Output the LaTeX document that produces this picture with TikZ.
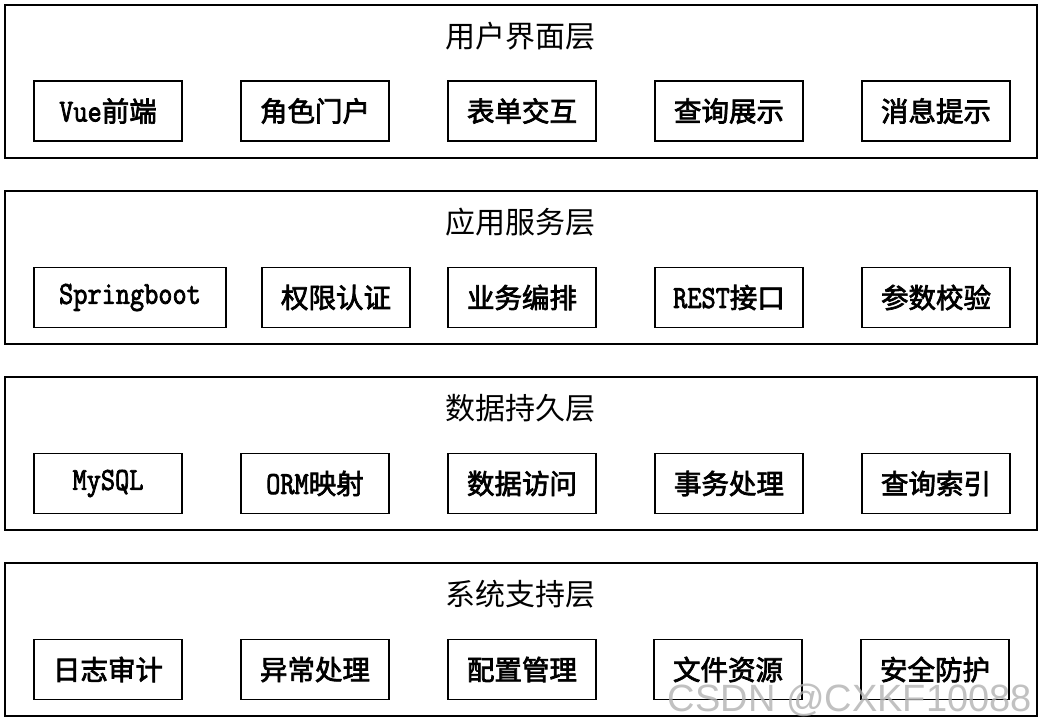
\documentclass[tikz,border=0pt]{standalone}
\usepackage{fontspec}
\usepackage{graphicx}
\setmainfont{Noto Sans CJK SC}
\newfontfamily\cjkb[FakeBold=2.6]{Noto Sans CJK SC}
\newfontfamily\lttf[FakeBold=2.6]{Latin Modern Mono}
\newcommand{\lt}[1]{\scalebox{0.86}[1]{\lttf\fontsize{32}{34}\selectfont #1}}
\newfontfamily\wmfont{Liberation Sans}
\begin{document}
\begin{tikzpicture}[x=1pt,y=-1pt,
  layer/.style={draw=black,line width=1.3pt},
  item/.style={draw=black,line width=1.3pt,minimum height=60pt,inner sep=0pt,font=\fontsize{27.5}{30}\selectfont\cjkb},
  ttl/.style={font=\fontsize{30}{32}\selectfont,inner sep=0pt}]
\useasboundingbox (0,0) rectangle (1047,726);
\fill[white] (0,0) rectangle (1047,726);
% layers
\foreach \i/\t/\y in {1/用户界面层/5, 2/应用服务层/191, 3/数据持久层/377, 4/系统支持层/563}{
  \draw[layer] (5,\y) rectangle (1037,\y+153);
  \node[ttl] (t\i) at (520,\y+31) {\t};
}
% layer 1
\node[item,minimum width=148pt] (a1) at (108,111) {\lt{Vue}前端};
\node[item,minimum width=148pt] (a2) at (315,111) {角色门户};
\node[item,minimum width=148pt] (a3) at (522,111) {表单交互};
\node[item,minimum width=148pt] (a4) at (729,111) {查询展示};
\node[item,minimum width=148pt] (a5) at (936,111) {消息提示};
% layer 2
\node[item,minimum width=192pt] (b1) at (130,297.5) {\lt{Springboot}};
\node[item,minimum width=148pt] (b2) at (336,297.5) {权限认证};
\node[item,minimum width=148pt] (b3) at (522,297.5) {业务编排};
\node[item,minimum width=148pt] (b4) at (729,297.5) {\lt{REST}接口};
\node[item,minimum width=148pt] (b5) at (936,297.5) {参数校验};
% layer 3
\node[item,minimum width=148pt] (c1) at (108,483.5) {\lt{MySQL}};
\node[item,minimum width=148pt] (c2) at (315,483.5) {\lt{ORM}映射};
\node[item,minimum width=148pt] (c3) at (522,483.5) {数据访问};
\node[item,minimum width=148pt] (c4) at (729,483.5) {事务处理};
\node[item,minimum width=148pt] (c5) at (936,483.5) {查询索引};
% layer 4
\node[item,minimum width=148pt] (d1) at (108,669.5) {日志审计};
\node[item,minimum width=148pt] (d2) at (315,669.5) {异常处理};
\node[item,minimum width=148pt] (d3) at (522,669.5) {配置管理};
\node[item,minimum width=148pt] (d4) at (728,669.5) {文件资源};
\node[item,minimum width=148pt] (d5) at (935,669.5) {安全防护};
% watermark
\node[font=\wmfont\fontsize{38}{40}\selectfont,text=black!30,opacity=0.8,anchor=east,inner sep=0pt] (wm) at (1032,700) {CSDN @CXKF10088};
\end{tikzpicture}
\end{document}
